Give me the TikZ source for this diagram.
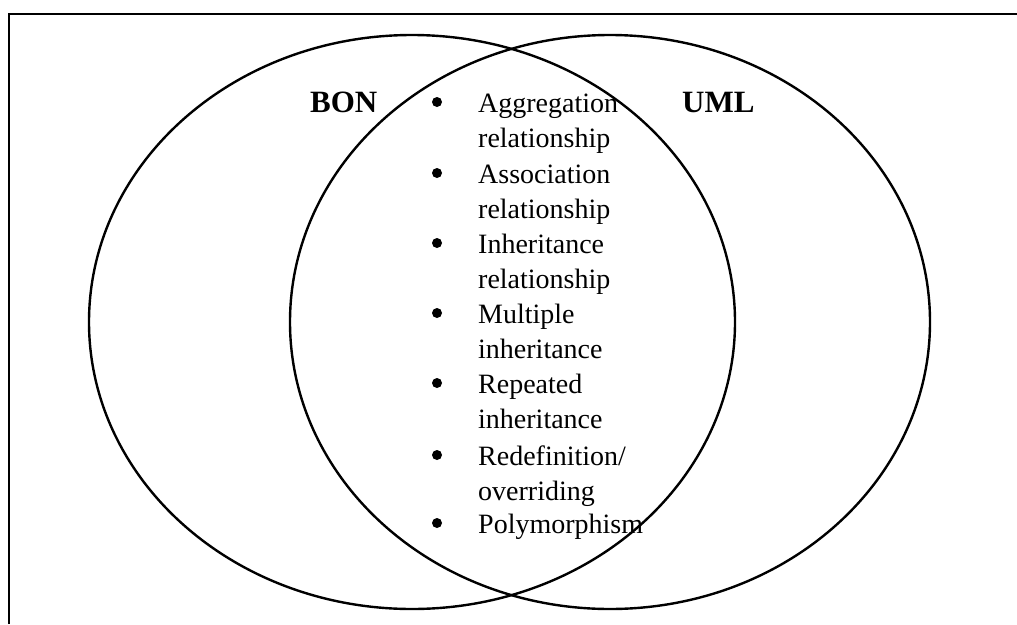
\documentclass[tikz,border=0pt]{standalone}
\usepackage{fontspec}
\setmainfont{Liberation Serif}
\begin{document}
\begin{tikzpicture}[x=1pt,y=-1pt,
  setline/.style={line width=2.4pt},
  setlabel/.style={font=\fontsize{31}{36}\selectfont\bfseries, inner sep=0pt, anchor=base west},
  itemtext/.style={font=\fontsize{28}{35}\selectfont, inner sep=0pt, anchor=base west, align=left},
  dot/.style={circle, fill=black, inner sep=0pt, minimum size=10pt}]
  \useasboundingbox (0,0) rectangle (1017,624);

  % frame (top and left edges)
  \draw[line width=2.6pt] (9,624) -- (9,14) -- (1017,14);

  % the two sets
  \draw[setline] (412,322) ellipse [x radius=323, y radius=287];
  \draw[setline] (610,322) ellipse [x radius=320, y radius=287];

  % set labels
  \node[setlabel] (bon) at (310,112) {BON};
  \node[setlabel] (uml) at (682,112) {UML};

  % shared features: first-line baseline / last-line baseline / text
  \foreach \y/\ylast/\txt [count=\i] in {
      112/147/{Aggregation\\relationship},
      183/218/{Association\\relationship},
      253/288/{Inheritance\\relationship},
      323/358/{Multiple\\inheritance},
      393/428/{Repeated\\inheritance},
      465/500/{Redefinition/\\overriding},
      533/533/{Polymorphism}} {
    \node[dot] (b\i) at (437,\y-10) {};
    \node[itemtext] (t\i) at (478,\ylast) {\txt};
  }
\end{tikzpicture}
\end{document}
